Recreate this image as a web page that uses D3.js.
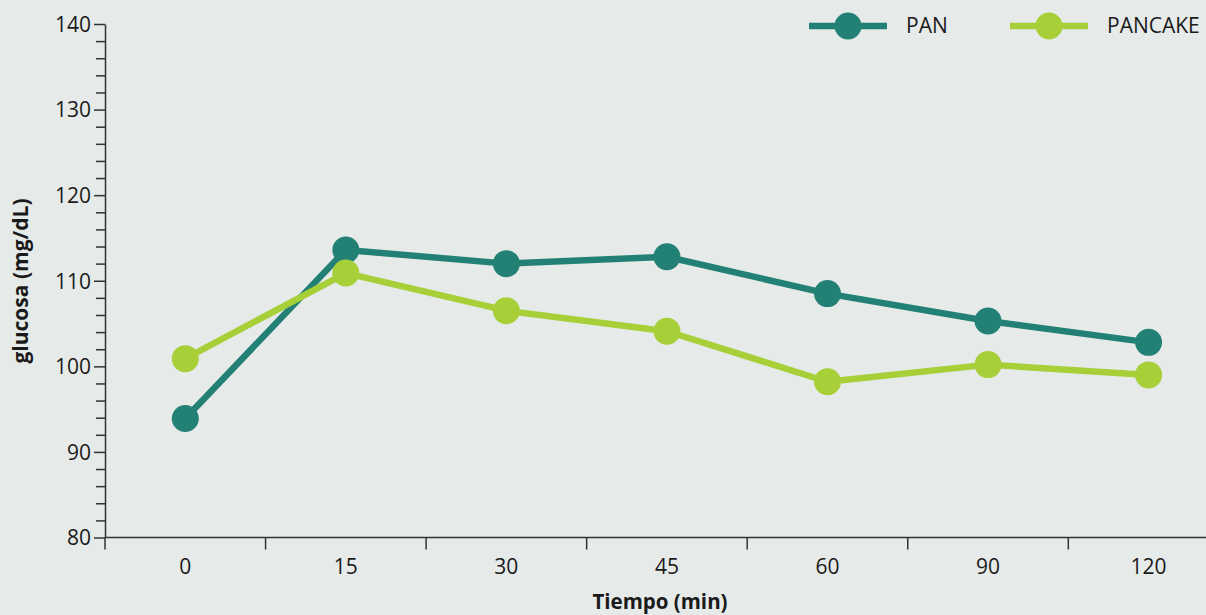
<!DOCTYPE html>
<html>
<head>
<meta charset="utf-8">
<script src="https://cdn.jsdelivr.net/npm/d3@7"></script>
<style>
  html, body { margin: 0; padding: 0; background: #e6eae9; }
  svg { display: block; }
  text { font-family: "Open Sans", "Noto Sans", sans-serif; fill: #1a1a1a; }
</style>
</head>
<body>
<svg id="chart" width="1206" height="615"></svg>
<script>
const categories = ["0", "15", "30", "45", "60", "90", "120"];
const panValues = [93.9, 113.6, 112.0, 112.8, 108.5, 105.3, 102.8];
const pancakeValues = [100.9, 110.9, 106.5, 104.1, 98.2, 100.2, 99.0];
const seriesNames = ["PAN", "PANCAKE"];
const seriesColors = ["#238075", "#a7cf38"];
const yTicks = [80, 90, 100, 110, 120, 130, 140];
const xTitle = "Tiempo (min)";
const yTitle = "glucosa (mg/dL)";

(function () {
const W = 1206, H = 615;
const svg = d3.select("#chart");
svg.append("rect").attr("width", W).attr("height", H).attr("fill", "#e6eae9");

const mLeft = 105, mTop = 24, mBottom = 537.5, step = 160.55;
const x = d3.scaleBand().domain(categories).range([mLeft, mLeft + step * categories.length]).padding(0);
const y = d3.scaleLinear().domain([80, 140]).range([mBottom, mTop]);

const axisColor = "#333";

// Y axis: minor ticks
const yMinor = d3.range(80, 141, 2).filter(v => v % 10 !== 0);
const yAxisMinor = svg.append("g").attr("transform", `translate(${mLeft},0)`)
  .call(d3.axisLeft(y).tickValues(yMinor).tickSize(9).tickFormat(""));
yAxisMinor.select(".domain").remove();
yAxisMinor.selectAll("line").attr("stroke", axisColor).attr("stroke-width", 1.5);

const yAxis = svg.append("g").attr("transform", `translate(${mLeft},0)`)
  .call(d3.axisLeft(y).tickValues(yTicks).tickSize(11).tickPadding(3).tickSizeOuter(0));
yAxis.select(".domain").attr("stroke", axisColor).attr("stroke-width", 1.5);
yAxis.selectAll("line").attr("stroke", axisColor).attr("stroke-width", 1.5);
yAxis.selectAll("text").attr("font-size", 21).attr("font-family", "'Open Sans', sans-serif").attr("fill", "#1a1a1a").attr("dy", "0.35em");

// X axis
const xAxisG = svg.append("g").attr("transform", `translate(0,${mBottom})`);
xAxisG.append("line").attr("x1", mLeft).attr("x2", W).attr("y1", 0).attr("y2", 0)
  .attr("stroke", axisColor).attr("stroke-width", 1.5);
xAxisG.selectAll("line.tick").data(categories).enter().append("line").attr("class", "tick")
  .attr("x1", d => x(d)).attr("x2", d => x(d)).attr("y1", 0).attr("y2", 12)
  .attr("stroke", axisColor).attr("stroke-width", 1.5);
xAxisG.selectAll("text").data(categories).enter().append("text")
  .attr("x", d => x(d) + x.bandwidth() / 2).attr("y", 36)
  .attr("text-anchor", "middle").attr("font-size", 21).text(d => d);

// Titles
svg.append("text").attr("x", 660).attr("y", 609).attr("text-anchor", "middle")
  .attr("font-size", 20.5).attr("font-weight", "bold").text(xTitle);
svg.append("text").attr("transform", `translate(28,281) rotate(-90)`).attr("text-anchor", "middle")
  .attr("font-size", 21).attr("font-weight", "bold").text(yTitle);

// Series
const allSeries = [panValues, pancakeValues];
const line = d3.line().x((d, i) => x(categories[i]) + x.bandwidth() / 2).y(d => y(d));
allSeries.forEach((vals, s) => {
  const g = svg.append("g");
  g.append("path").datum(vals).attr("d", line).attr("fill", "none")
    .attr("stroke", seriesColors[s]).attr("stroke-width", 6.5).attr("stroke-linejoin", "round");
  g.selectAll("circle").data(vals).enter().append("circle")
    .attr("cx", (d, i) => x(categories[i]) + x.bandwidth() / 2).attr("cy", d => y(d))
    .attr("r", 13.5).attr("fill", seriesColors[s]);
});

// Legend
const legendX = [809, 1010];
seriesNames.forEach((name, s) => {
  const g = svg.append("g").attr("transform", `translate(${legendX[s]},26)`);
  g.append("line").attr("x1", 0).attr("x2", 78).attr("y1", 0).attr("y2", 0)
    .attr("stroke", seriesColors[s]).attr("stroke-width", 6.5);
  g.append("circle").attr("cx", 39).attr("cy", 0).attr("r", 13.5).attr("fill", seriesColors[s]);
  g.append("text").attr("x", 97).attr("y", 0).attr("dy", "0.35em").attr("font-size", 21).text(name);
});
})();
</script>
</body>
</html>
